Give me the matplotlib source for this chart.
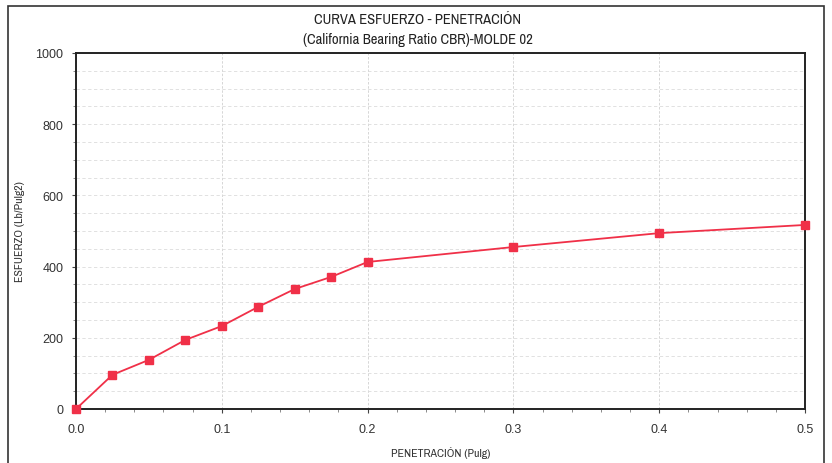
import matplotlib
matplotlib.use("Agg")
import matplotlib.pyplot as plt
from matplotlib.ticker import MultipleLocator
from matplotlib.patches import Rectangle

penetracion = [0.0, 0.025, 0.05, 0.075, 0.1, 0.125, 0.15, 0.175, 0.2, 0.3, 0.4, 0.5]
esfuerzo = [0, 96, 138, 194, 233, 287, 337, 371, 413, 455, 494, 517]
x_ticks = [0.0, 0.1, 0.2, 0.3, 0.4, 0.5]
y_ticks = [0, 200, 400, 600, 800, 1000]

narrow = ['Archivo Narrow', 'Liberation Sans', 'DejaVu Sans']
plt.rcParams['font.family'] = ['Liberation Sans', 'DejaVu Sans']

fig = plt.figure(figsize=(8.32, 4.64), dpi=100)
ax = fig.add_axes([76/832, 1-410/464, (805-76)/832, (410-54)/464])

red = '#f03048'
ax.plot(penetracion, esfuerzo, color=red, lw=1.3, marker='s', ms=5.5,
        markerfacecolor=red, markeredgecolor=red, zorder=5, clip_on=False)

ax.set_xlim(0, 0.5)
ax.set_ylim(0, 1000)
ax.set_xticks(x_ticks)
ax.set_xticklabels([f"{v:.1f}" for v in x_ticks])
ax.set_yticks(y_ticks)
ax.xaxis.set_minor_locator(MultipleLocator(0.02))
ax.yaxis.set_minor_locator(MultipleLocator(50))
ax.tick_params(axis='both', which='major', labelsize=9, length=3, width=0.8, color='#444444', labelcolor='#333333')
ax.tick_params(axis='both', which='minor', length=2, width=0.6, color='#777777')
ax.tick_params(axis='x', pad=7)
ax.tick_params(axis='y', pad=6)

ax.grid(True, axis='x', which='major', ls=(0, (3, 2)), lw=0.6, color='#d0d0d0')
ax.grid(True, axis='y', which='both', ls=(0, (4, 3)), lw=0.6, color='#dcdcdc')
for s in ax.spines.values():
    s.set_linewidth(1.4)
    s.set_color('#222222')

ax.set_xlabel('PENETRACIÓN (Pulg)', fontsize=8.5, color='#333333', labelpad=8, family=narrow)
fig.text(20/832, 1-232/464, 'ESFUERZO (Lb/Pulg2)', rotation=90, ha='center', va='center',
         fontsize=8.5, color='#333333', family=narrow)

fig.text(418/832, 1-20/464, 'CURVA ESFUERZO - PENETRACIÓN', ha='center', va='center',
         fontsize=10.5, color='#222222', family=narrow)
fig.text(418/832, 1-40/464, '(California Bearing Ratio CBR)-MOLDE 02', ha='center', va='center',
         fontsize=10.5, color='#222222', family=narrow)

fig.patches.append(Rectangle((8/832, -0.05), (824-8)/832, 1.05-7/464, transform=fig.transFigure,
                             fill=False, edgecolor='#333333', lw=1.2))

fig.savefig('out.png', dpi=100)
